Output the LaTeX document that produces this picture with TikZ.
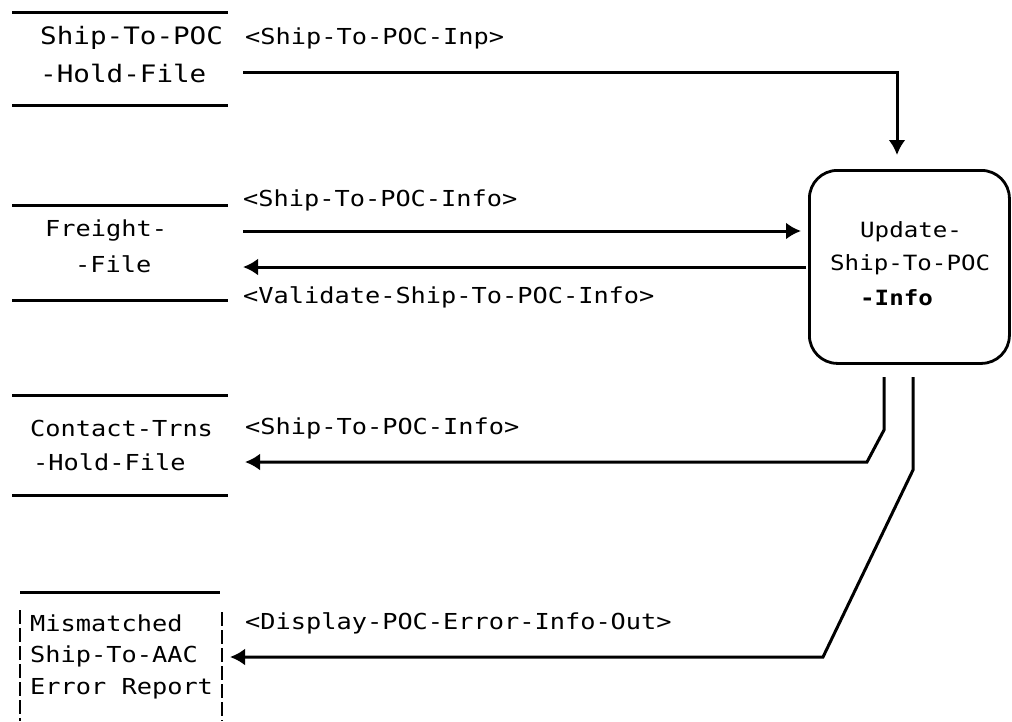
\documentclass[tikz,border=0pt]{standalone}
\usepackage{fontspec}
\newfontfamily\plotfont[FakeStretch=1.15]{DejaVu Sans Mono}
\usetikzlibrary{arrows.meta}
\begin{document}
\begin{tikzpicture}[x=1pt,y=-1pt,
  flow/.style={line width=3pt,-{Latex[length=15pt,width=17pt]}},
  storeline/.style={line width=3pt},
  sidebar/.style={line width=1.6pt,dash pattern=on 14pt off 4pt},
  lbl/.style={anchor=west,inner sep=0pt,font=\plotfont\fontsize{22}{22}\selectfont},
  stxt/.style={anchor=west,inner sep=0pt,font=\plotfont\fontsize{24}{24}\selectfont},
  ptxt/.style={anchor=west,inner sep=0pt,font=\plotfont\fontsize{21}{21}\selectfont},
]
\useasboundingbox (0,0) rectangle (1012,721);

% process
\node[draw,line width=2.8pt,rounded corners=28pt,minimum width=200pt,minimum height=193pt,anchor=north west,inner sep=0pt] (proc) at (808,169) {};
\node[ptxt] (p1) at (860,232) {Update-};
\node[ptxt] (p2) at (830,265) {Ship-To-POC};
\node[ptxt,font=\plotfont\bfseries\fontsize{21}{21}\selectfont] (p3) at (860,298) {-Info};

% store 1
\draw[storeline] (12,12) -- (228,12);
\draw[storeline] (12,105) -- (228,105);
\node[stxt] (s1a) at (40,38) {Ship-To-POC};
\node[stxt] (s1b) at (40,73) {-Hold-File};

% store 2
\draw[storeline] (12,205) -- (228,205);
\draw[storeline] (12,300) -- (228,300);
\node[lbl] (s2a) at (45,230) {Freight-};
\node[lbl] (s2b) at (75,264) {-File};

% store 3
\draw[storeline] (12,395) -- (228,395);
\draw[storeline] (12,495) -- (228,495);
\node[lbl] (s3a) at (30,428) {Contact-Trns};
\node[lbl] (s3b) at (33,462) {-Hold-File};

% store 4
\draw[storeline] (20,592) -- (220,592);
\draw[sidebar] (20,610) -- (20,721);
\draw[sidebar] (222,612) -- (222,721);
\node[lbl] (s4a) at (30,623) {Mismatched};
\node[lbl] (s4b) at (30,656) {Ship-To-AAC};
\node[lbl] (s4c) at (30,689) {Error Report};

% connector end points
\coordinate (a1s) at (243,72);
\coordinate (a1c) at (897,72);
\coordinate (a1e) at (897,155);
\coordinate (a2s) at (243,231);
\coordinate (a2e) at (801,231);
\coordinate (a3s) at (806,267);
\coordinate (a3e) at (243,267);
\coordinate (a4s) at (884,377);
\coordinate (a4b) at (884,430);
\coordinate (a4c) at (867,462);
\coordinate (a4e) at (245,462);
\coordinate (a5s) at (913,377);
\coordinate (a5b) at (913,470);
\coordinate (a5c) at (823,657);
\coordinate (a5e) at (230,657);

% flows
\draw[flow] (a1s) -- (a1c) -- (a1e);
\node[lbl] (l1) at (245,38) {<Ship-To-POC-Inp>};
\draw[flow] (a2s) -- (a2e);
\node[lbl] (l2) at (243,200) {<Ship-To-POC-Info>};
\draw[flow] (a3s) -- (a3e);
\node[lbl] (l3) at (243,297) {<Validate-Ship-To-POC-Info>};
\draw[flow] (a4s) -- (a4b) -- (a4c) -- (a4e);
\node[lbl] (l4) at (245,428) {<Ship-To-POC-Info>};
\draw[flow] (a5s) -- (a5b) -- (a5c) -- (a5e);
\node[lbl] (l5) at (245,623) {<Display-POC-Error-Info-Out>};
\end{tikzpicture}
\end{document}
